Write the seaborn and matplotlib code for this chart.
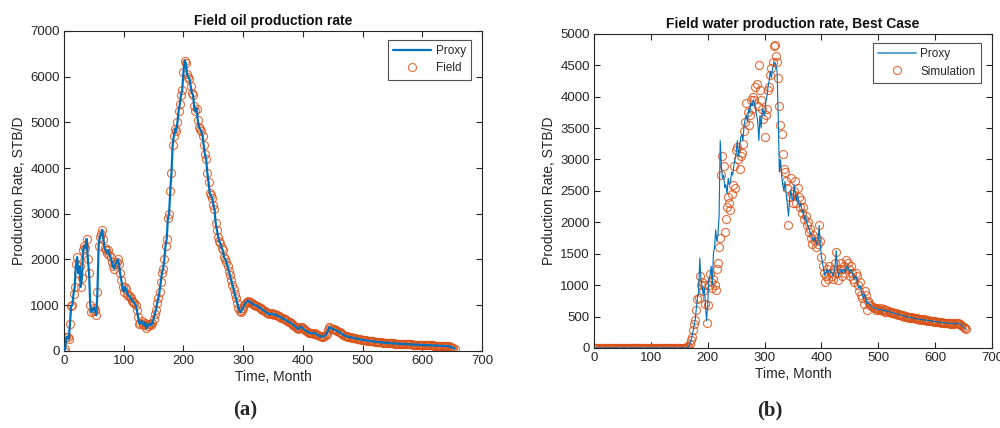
import numpy as np
import matplotlib
matplotlib.use("Agg")
import matplotlib.pyplot as plt
import seaborn as sns

# ---------------- data (every 2 months) ----------------
oil_rate = [
    0, 40, 300, 310, 260, 600, 980, 1000, 1250, 1400,
    1900, 2050, 1700, 1850, 1400, 1600, 2200, 2300, 2250, 2450,
    2000, 1700, 1000, 850, 880, 950, 900, 780, 1300, 2300,
    2500, 2550, 2650, 2450, 2250, 2200, 2150, 2200, 2100, 2050,
    1950, 1850, 1800, 1900, 1950, 2000, 1900, 1700, 1550, 1400,
    1300, 1400, 1350, 1250, 1200, 1200, 1150, 1100, 1080, 1050,
    1000, 900, 750, 600, 620, 650, 600, 560, 620, 500,
    540, 580, 600, 560, 620, 700, 800, 900, 1050, 1150,
    1300, 1500, 1700, 1800, 2000, 2300, 2450, 2900, 3000, 3500,
    3900, 4500, 4700, 4850, 4800, 5000, 5250, 5400, 5600, 5700,
    6100, 6350, 6300, 6050, 6000, 5950, 5800, 5650, 5600, 5350,
    5250, 5300, 5050, 4900, 4850, 4800, 4700, 4500, 4300, 4200,
    3900, 3700, 3450, 3400, 3350, 3200, 3100, 2800, 2650, 2500,
    2400, 2350, 2250, 2200, 2050, 2000, 1950, 1850, 1750, 1650,
    1550, 1450, 1350, 1250, 1150, 1050, 950, 880, 850, 900,
    950, 1000, 1050, 1080, 1100, 1080, 1060, 1050, 1030, 1010,
    1000, 990, 980, 960, 950, 930, 900, 890, 870, 850,
    830, 820, 800, 810, 820, 800, 790, 800, 780, 770,
    760, 740, 730, 710, 700, 690, 670, 650, 640, 630,
    610, 590, 570, 550, 530, 500, 480, 500, 530, 520,
    500, 470, 450, 430, 420, 400, 395, 390, 385, 380,
    400, 380, 350, 340, 330, 320, 310, 315, 330, 350,
    380, 450, 520, 510, 490, 480, 470, 460, 450, 435,
    420, 410, 390, 370, 350, 335, 325, 318, 312, 305,
    300, 294, 288, 282, 276, 270, 264, 258, 252, 248,
    244, 240, 236, 232, 228, 225, 221, 217, 213, 209,
    205, 201, 198, 195, 192, 190, 187, 184, 182, 179,
    177, 175, 173, 171, 169, 167, 165, 163, 161, 160,
    158, 156, 155, 153, 152, 150, 149, 148, 146, 145,
    144, 142, 141, 140, 138, 137, 136, 134, 133, 132,
    131, 130, 128, 127, 126, 125, 124, 123, 121, 120,
    119, 118, 117, 116, 115, 114, 113, 112, 111, 110,
    108, 106, 102, 96, 88, 75, 60, 50,
]
oil_proxy = list(oil_rate)

water_sim = [
    0, 0, 0, 0, 0, 0, 0, 0, 0, 0,
    0, 0, 0, 0, 0, 0, 0, 0, 0, 0,
    0, 0, 0, 0, 0, 0, 0, 0, 0, 0,
    0, 0, 0, 0, 0, 0, 0, 0, 0, 0,
    0, 0, 0, 0, 0, 0, 0, 0, 0, 0,
    0, 0, 0, 0, 0, 0, 0, 0, 0, 0,
    0, 0, 0, 0, 0, 0, 0, 0, 0, 0,
    0, 0, 0, 0, 0, 0, 0, 0, 0, 0,
    0, 0, 10, 30, 60, 120, 180, 280, 380, 450,
    600, 780, 800, 1150, 1000, 1050, 900, 1000, 700, 400,
    680, 1000, 1180, 1050, 950, 1100, 1000, 920, 1250, 1350,
    1600, 1750, 2750, 3050, 2900, 1850, 2050, 2250, 2400, 2300,
    2200, 2450, 2600, 2900, 2550, 3150, 3200, 3000, 2850, 3050,
    3100, 3250, 3450, 3600, 3900, 3750, 3550, 3700, 3950, 3800,
    4000, 3950, 4150, 4200, 3850, 4500, 4100, 3950, 3800, 3650,
    3350, 3700, 3800, 4100, 4150, 4350, 4450, 4550, 4800, 4820,
    4650, 4550, 4300, 3850, 3550, 3400, 3080, 2850, 2800, 2650,
    2550, 1950, 2400, 2700, 2450, 2300, 2500, 2650, 2300, 2550,
    2400, 2250, 2350, 2150, 2250, 2050, 2100, 1950, 2000, 1850,
    1900, 1750, 1650, 1800, 1700, 1600, 1750, 1650, 1950, 1700,
    1450, 1300, 1200, 1050, 1150, 1250, 1100, 1300, 1200, 1150,
    1100, 1250, 1350, 1530, 1200, 1080, 1250, 1350, 1150, 1250,
    1300, 1200, 1400, 1350, 1250, 1150, 1300, 1200, 1100, 1050,
    1200, 1150, 1000, 900, 1050, 850, 800, 700, 900, 850,
    600, 750, 720, 680, 660, 650, 640, 630, 610, 640,
    620, 600, 630, 610, 590, 620, 580, 600, 570, 590,
    580, 560, 570, 550, 560, 540, 550, 530, 540, 520,
    530, 510, 520, 500, 510, 490, 500, 480, 495, 475,
    485, 470, 480, 460, 470, 455, 465, 450, 460, 445,
    455, 440, 450, 435, 440, 430, 435, 425, 430, 420,
    425, 415, 420, 410, 415, 405, 410, 400, 405, 395,
    400, 392, 398, 388, 395, 385, 392, 380, 395, 390,
    400, 385, 380, 370, 350, 330, 310, 300,
]
water_proxy = [
    0, 0, 0, 0, 0, 0, 0, 0, 0, 0,
    0, 0, 0, 0, 0, 0, 0, 0, 0, 0,
    0, 0, 0, 0, 0, 0, 0, 0, 0, 0,
    0, 0, 0, 0, 0, 0, 0, 0, 0, 0,
    0, 0, 0, 0, 0, 0, 0, 0, 0, 0,
    0, 0, 0, 0, 0, 0, 0, 0, 0, 0,
    0, 0, 0, 0, 0, 0, 0, 0, 0, 0,
    0, 0, 0, 0, 0, 0, 0, 0, 0, 0,
    0, 0, 5, 20, 50, 100, 170, 260, 350, 450,
    620, 800, 900, 1430, 1100, 1000, 850, 950, 700, 430,
    700, 1100, 1150, 1300, 1000, 1500, 1600, 1880, 1700, 1800,
    2100, 3300, 2900, 2700, 2750, 2550, 2600, 2450, 2700, 2600,
    2650, 2800, 2750, 2900, 3000, 3100, 3300, 3050, 3200, 3350,
    3400, 3300, 3550, 3650, 3700, 3600, 3800, 3750, 3900, 3850,
    3950, 3900, 3800, 3700, 3600, 3300, 3700, 3500, 3800, 3750,
    3700, 3900, 4000, 4150, 4250, 4400, 4300, 4450, 4500, 4550,
    4500, 4400, 3700, 2800, 3000, 2750, 2600, 2500, 2650, 2450,
    2300, 2100, 2350, 2500, 2400, 2350, 2600, 2450, 2350, 2450,
    2300, 2250, 2300, 2150, 2200, 2050, 2100, 2000, 1950, 1900,
    1850, 1800, 1750, 1700, 1750, 1700, 1650, 1700, 1950, 1650,
    1450, 1350, 1250, 1150, 1200, 1250, 1200, 1250, 1200, 1200,
    1150, 1200, 1300, 1550, 1250, 1150, 1200, 1250, 1200, 1250,
    1250, 1200, 1300, 1300, 1250, 1200, 1250, 1200, 1150, 1100,
    1150, 1100, 1000, 950, 1000, 900, 850, 780, 850, 800,
    700, 720, 700, 680, 660, 650, 640, 630, 620, 630,
    615, 605, 615, 605, 595, 605, 585, 595, 575, 585,
    575, 565, 565, 555, 555, 545, 545, 535, 535, 525,
    525, 515, 515, 505, 505, 495, 495, 485, 488, 478,
    480, 472, 475, 463, 467, 458, 460, 452, 455, 448,
    450, 442, 446, 437, 438, 432, 432, 427, 427, 422,
    422, 417, 417, 412, 412, 407, 407, 402, 402, 397,
    397, 393, 395, 390, 392, 387, 389, 383, 390, 388,
    395, 385, 378, 368, 350, 330, 312, 300,
]

oil_months = np.arange(len(oil_rate)) * 2
water_months = np.arange(len(water_sim)) * 2

x_ticks = [0, 100, 200, 300, 400, 500, 600, 700]
oil_yticks = [0, 1000, 2000, 3000, 4000, 5000, 6000, 7000]
water_yticks = [0, 500, 1000, 1500, 2000, 2500, 3000, 3500, 4000, 4500, 5000]

# ---------------- style ----------------
sns.set_theme(style="white")
plt.rcParams["font.family"] = ["Liberation Sans", "DejaVu Sans"]
BLUE = "#0072BD"
LIGHT_BLUE = "#5DA4DB"
ORANGE = "#D95319"
DARK = "#262626"

fig = plt.figure(figsize=(10, 4.28), dpi=100)
ax1 = fig.add_axes([0.064, 0.180, 0.418, 0.748])
ax2 = fig.add_axes([0.594, 0.187, 0.398, 0.734])


def style_axes(ax, yticks, ymax, title):
    ax.set_xlim(0, 700)
    ax.set_ylim(0, ymax)
    ax.set_xticks(x_ticks)
    ax.set_yticks(yticks)
    ax.tick_params(direction="in", length=4, width=0.8, colors=DARK, labelsize=9.5,
                   top=True, right=True, bottom=True, left=True, pad=3)
    for s in ax.spines.values():
        s.set_color(DARK)
        s.set_linewidth(0.8)
        s.set_visible(True)
    ax.set_xlabel("Time, Month", fontsize=10, color=DARK, labelpad=2)
    ax.set_ylabel("Production Rate, STB/D", fontsize=10, color=DARK, labelpad=3)
    ax.set_title(title, fontsize=10, fontweight="bold", color="#111111", pad=4)


def add_legend(ax, anchor):
    leg = ax.legend(loc="upper right", fontsize=8.5, frameon=True, fancybox=False,
                    edgecolor=DARK, handlelength=3.2, borderpad=0.45, labelspacing=0.45,
                    handletextpad=0.4, borderaxespad=0.0, bbox_to_anchor=anchor)
    leg.get_frame().set_linewidth(0.8)
    return leg


# ---- panel (a) ----
sns.lineplot(x=oil_months, y=oil_proxy, ax=ax1, color=BLUE, linewidth=1.6,
             estimator=None, sort=False, label="Proxy", zorder=3)
sns.lineplot(x=oil_months, y=oil_rate, ax=ax1, linestyle="none", marker="o",
             markersize=5.8, markerfacecolor="none", markeredgecolor=ORANGE,
             markeredgewidth=0.85, alpha=0.8, estimator=None, sort=False,
             label="Field", zorder=2)
style_axes(ax1, oil_yticks, 7000, "Field oil production rate")
add_legend(ax1, (0.974, 0.972))

# ---- panel (b) ----
sns.lineplot(x=water_months, y=water_proxy, ax=ax2, color=BLUE, linewidth=0.8,
             estimator=None, sort=False, label="Proxy", zorder=3)
sns.lineplot(x=water_months, y=water_sim, ax=ax2, linestyle="none", marker="o",
             markersize=5.8, markerfacecolor="none", markeredgecolor=ORANGE,
             markeredgewidth=0.85, alpha=0.8, estimator=None, sort=False,
             label="Simulation", zorder=2)
style_axes(ax2, water_yticks, 5000, "Field water production rate, Best Case")
leg2 = add_legend(ax2, (0.972, 0.971))
leg2.get_lines()[0].set_linewidth(1.5)
leg2.get_lines()[0].set_color(LIGHT_BLUE)

# ---- panel labels ----
fig.text(0.245, 0.040, "(a)", ha="center", va="center", fontsize=15,
         fontweight="bold", family=["Liberation Serif", "DejaVu Serif"])
fig.text(0.770, 0.040, "(b)", ha="center", va="center", fontsize=15,
         fontweight="bold", family=["Liberation Serif", "DejaVu Serif"])

fig.savefig("out.png", dpi=100)
